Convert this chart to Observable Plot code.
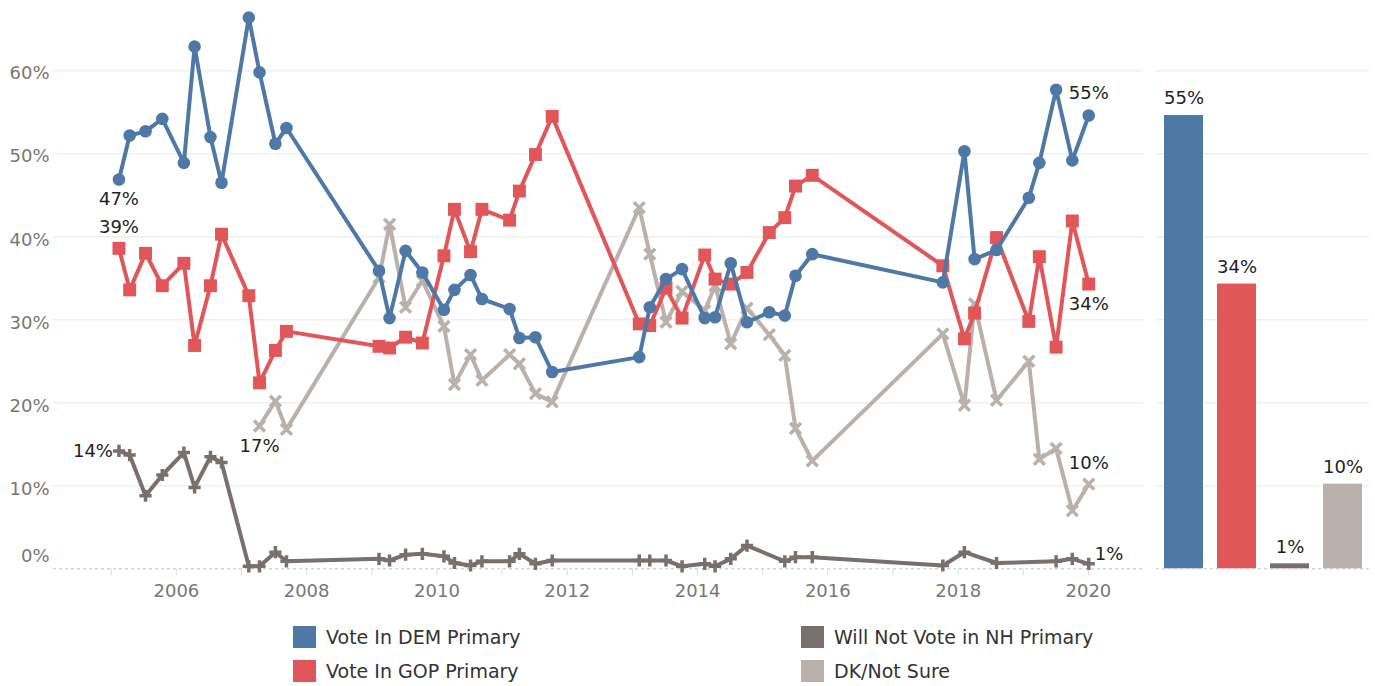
<!DOCTYPE html>
<html>
<head>
<meta charset="utf-8">
<script src="https://cdn.jsdelivr.net/npm/d3@7"></script>
<script src="https://cdn.jsdelivr.net/npm/@observablehq/plot@0.6"></script>
<style>
  body { margin: 0; background: #fff; font-family: "DejaVu Sans", sans-serif; }
  #wrap { position: relative; width: 1375px; height: 686px; overflow: hidden; }
  #trend { position: absolute; left: 0; top: 0; }
  #latest { position: absolute; left: 1150px; top: 0; }
  .key { position: absolute; display: flex; align-items: center; font-size: 19px; color: #333; white-space: nowrap; }
  .key span.sw { display: inline-block; width: 23px; height: 22px; margin-right: 10px; }
</style>
</head>
<body>
<div id="wrap">
  <div id="trend"></div>
  <div id="latest"></div>
  <div id="legend"></div>
</div>
<script>
// Survey field dates (Granite State Poll waves)
const surveyDates = [
  "2005-02-13","2005-04-14","2005-07-12","2005-10-14",
  "2006-02-12","2006-04-13","2006-07-11","2006-09-11",
  "2007-02-11","2007-04-12","2007-07-10","2007-09-10",
  "2009-02-10","2009-04-10","2009-07-09","2009-10-11",
  "2010-02-09","2010-04-09","2010-07-08","2010-09-10",
  "2011-02-12","2011-04-08","2011-07-07","2011-10-09",
  "2013-02-08","2013-04-08","2013-07-08","2013-10-06",
  "2014-02-10","2014-04-09","2014-07-06","2014-10-05",
  "2015-02-07","2015-05-05","2015-07-04","2015-10-06",
  "2017-10-07","2018-02-05","2018-04-03","2018-08-04",
  "2019-02-01","2019-04-01","2019-07-04","2019-10-03",
  "2020-01-03"
];

// Share of respondents (%) per wave; null = not reported
const demPrimary = [
  46.9, 52.2, 52.7, 54.2, 48.9, 62.9, 52.0, 46.5, 66.4, 59.8, 51.2, 53.1,
  35.9, 30.2, 38.3, 35.7, 31.2, 33.6, 35.4, 32.5, 31.3, 27.8, 27.9, 23.7,
  25.5, 31.5, 34.9, 36.1, 30.2, 30.3, 36.8, 29.7, 30.9, 30.5, 35.3, 37.9,
  34.5, 50.3, 37.3, 38.4, 44.7, 48.9, 57.7, 49.2, 54.6
];
const gopPrimary = [
  38.6, 33.6, 38.0, 34.1, 36.8, 26.9, 34.1, 40.3, 32.9, 22.4, 26.3, 28.6,
  26.8, 26.6, 27.9, 27.2, 37.7, 43.3, 38.2, 43.3, 42.0, 45.5, 49.9, 54.5,
  29.5, 29.3, 33.8, 30.2, 37.8, 34.9, 34.3, 35.7, 40.5, 42.3, 46.1, 47.4,
  36.5, 27.7, 30.8, 39.9, 29.8, 37.6, 26.7, 41.9, 34.3
];
const willNotVote = [
  14.2, 13.7, 8.8, 11.3, 14.0, 9.8, 13.5, 12.8, 0.3, 0.3, 2.0, 0.9,
  1.2, 1.0, 1.7, 1.8, 1.5, 0.7, 0.4, 0.9, 0.9, 1.8, 0.6, 1.0,
  1.0, 1.0, 1.0, 0.3, 0.6, 0.3, 1.2, 2.8, null, 0.9, 1.4, 1.4,
  0.4, 2.0, null, 0.7, null, null, 0.9, 1.2, 0.6
];
const dkNotSure = [
  null, null, null, null, null, null, null, null, null, 17.2, 20.2, 16.8,
  35.1, 41.5, 31.5, 34.7, 29.2, 22.2, 25.8, 22.7, 25.8, 24.7, 21.1, 20.1,
  43.5, 37.9, 29.7, 33.4, 31.1, 34.1, 27.1, 31.4, 28.2, 25.7, 16.9, 13.0,
  28.3, 19.7, 31.9, 20.3, 25.0, 13.2, 14.5, 7.0, 10.2
];

const seriesNames = ["Vote In DEM Primary", "Vote In GOP Primary", "Will Not Vote in NH Primary", "DK/Not Sure"];
const seriesColors = ["#4e79a7", "#e15759", "#79706e", "#bab0ac"];
const gridTicks = [10, 20, 30, 40, 50, 60];
const yearLabels = [2006, 2008, 2010, 2012, 2014, 2016, 2018, 2020];
const yearMarks = d3.range(2005, 2021);

const parse = d3.utcParse("%Y-%m-%d");
const when = surveyDates.map(parse);
const pct = v => `${Math.round(v)}%`;
const colorOf = name => seriesColors[seriesNames.indexOf(name)];

function rows(values, name) {
  return values.map((v, i) => ({date: when[i], value: v, series: name})).filter(d => d.value != null);
}
const dem = rows(demPrimary, seriesNames[0]);
const gop = rows(gopPrimary, seriesNames[1]);
const wnv = rows(willNotVote, seriesNames[2]);
const dk = rows(dkNotSure, seriesNames[3]);
const first = a => [a[0]];
const last = a => [a[a.length - 1]];

const font = "DejaVu Sans";
const yDomain = [0, 68];
const H = 610, MT = 3.8, MB = 41.7;

const labelStyle = {x: "date", y: "value", text: d => pct(d.value), fontSize: 18, fill: "#222", fontFamily: font};

const trend = Plot.plot({
  width: 1150, height: H,
  marginLeft: 53, marginRight: 7, marginTop: MT, marginBottom: MB,
  style: {fontFamily: font, background: "transparent", overflow: "visible"},
  x: {type: "utc", domain: [parse("2004-02-12"), parse("2020-11-05")], axis: null},
  y: {domain: yDomain, axis: null},
  marks: [
    Plot.ruleY(gridTicks, {stroke: "#efefef", strokeWidth: 1.5}),
    Plot.ruleY([0], {stroke: "#c4c4c4", strokeDasharray: "3,3"}),
    Plot.axisX({ticks: yearMarks.map(y => new Date(Date.UTC(y, 0, 1))), tickSize: 7, tickFormat: () => "", stroke: "#dedede"}),
    Plot.text(yearLabels, {x: y => new Date(Date.UTC(y, 0, 1)), frameAnchor: "bottom", dy: 28, text: String, fontSize: 18, fill: "#777"}),
    Plot.text(gridTicks, {y: d => d, frameAnchor: "left", textAnchor: "end", dx: -4, dy: 3, text: d => `${d}%`, fontSize: 18, fill: "#777"}),
    Plot.text([0], {y: d => d, frameAnchor: "left", textAnchor: "end", dx: -4, dy: -13, text: d => `${d}%`, fontSize: 18, fill: "#777"}),

    // DK / Not sure
    Plot.line(dk, {x: "date", y: "value", stroke: colorOf(seriesNames[3]), strokeWidth: 4}),
    Plot.dot(dk, {x: "date", y: "value", symbol: "times", r: 5, stroke: colorOf(seriesNames[3]), strokeWidth: 3.5, fill: "none"}),
    // Will not vote
    Plot.line(wnv, {x: "date", y: "value", stroke: colorOf(seriesNames[2]), strokeWidth: 4}),
    Plot.dot(wnv, {x: "date", y: "value", symbol: "plus", r: 4, stroke: colorOf(seriesNames[2]), strokeWidth: 3.5, fill: "none"}),
    // GOP primary
    Plot.line(gop, {x: "date", y: "value", stroke: colorOf(seriesNames[1]), strokeWidth: 4}),
    Plot.dot(gop, {x: "date", y: "value", symbol: "square", r: 7.3, fill: colorOf(seriesNames[1])}),
    // DEM primary
    Plot.line(dem, {x: "date", y: "value", stroke: colorOf(seriesNames[0]), strokeWidth: 4}),
    Plot.dot(dem, {x: "date", y: "value", symbol: "circle", r: 6.3, fill: colorOf(seriesNames[0])}),

    // start / end value labels
    Plot.text(first(dem), {...labelStyle, dy: 20}),
    Plot.text(first(gop), {...labelStyle, dy: -21}),
    Plot.text(first(wnv), {...labelStyle, textAnchor: "end", dx: -6}),
    Plot.text(first(dk), {...labelStyle, dy: 20}),
    Plot.text(last(dem), {...labelStyle, dy: -22}),
    Plot.text(last(gop), {...labelStyle, dy: 20}),
    Plot.text(last(dk), {...labelStyle, dy: -21}),
    Plot.text(last(wnv), {...labelStyle, textAnchor: "start", dx: 6, dy: -10})
  ]
});
document.getElementById("trend").appendChild(trend);

// Most recent wave as bars
const latest = [last(dem)[0], last(gop)[0], last(wnv)[0], last(dk)[0]];
const bars = Plot.plot({
  width: 225, height: H,
  marginLeft: 6, marginRight: 6, marginTop: MT, marginBottom: MB,
  style: {fontFamily: font, background: "transparent", overflow: "visible"},
  x: {type: "band", domain: seriesNames, padding: 0, axis: null},
  y: {domain: yDomain, axis: null},
  color: {domain: seriesNames, range: seriesColors},
  marks: [
    Plot.ruleY(gridTicks, {stroke: "#efefef", strokeWidth: 1.5}),
    Plot.barY(latest, {x: "series", y: "value", fill: "series", insetLeft: 7, insetRight: 7}),
    Plot.ruleY([0], {stroke: "#c4c4c4", strokeDasharray: "3,3"}),
    Plot.text(latest, {x: "series", y: "value", text: d => pct(d.value), dy: -17, fontSize: 18, fill: "#222"})
  ]
});
document.getElementById("latest").appendChild(bars);

// Legend
const legendPos = [[293, 626], [293, 660], [801, 626], [801, 660]];
const legend = document.getElementById("legend");
seriesNames.forEach((name, i) => {
  const item = document.createElement("div");
  item.className = "key";
  item.style.left = legendPos[i][0] + "px";
  item.style.top = legendPos[i][1] + "px";
  item.style.height = "22px";
  const sw = document.createElement("span");
  sw.className = "sw";
  sw.style.background = seriesColors[i];
  item.appendChild(sw);
  item.appendChild(document.createTextNode(name));
  legend.appendChild(item);
});
</script>
</body>
</html>
